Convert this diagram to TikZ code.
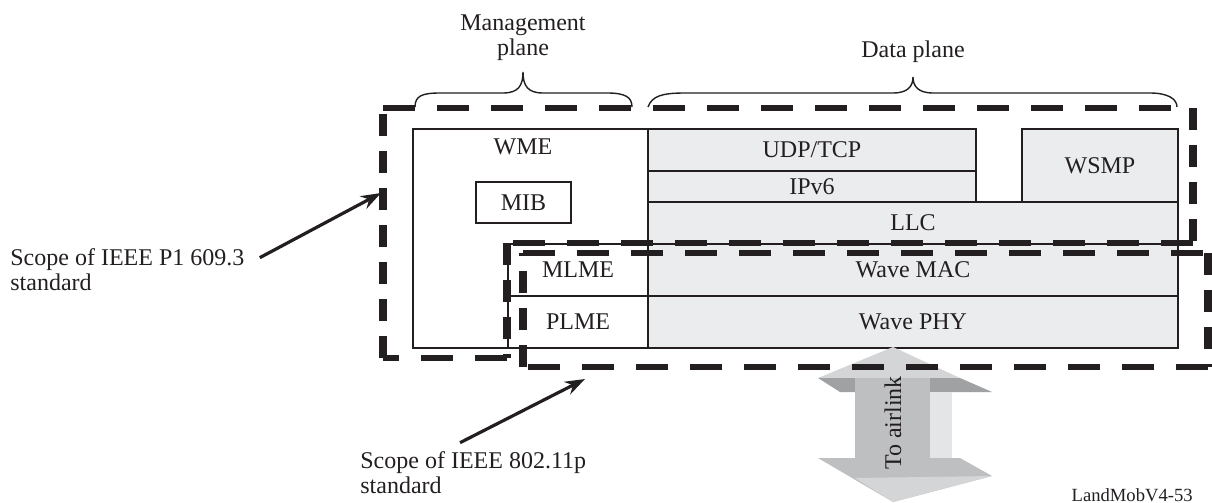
\documentclass[tikz,border=0pt]{standalone}
\usepackage{fontspec}
\setmainfont{Liberation Serif}
\usetikzlibrary{fit,arrows.meta}
\definecolor{boxgrey}{RGB}{235,236,238}
\definecolor{linec}{RGB}{35,31,32}
\definecolor{amid}{RGB}{190,191,193}
\definecolor{alight}{RGB}{212,213,215}
\definecolor{adark}{RGB}{160,161,163}
\definecolor{aside}{RGB}{228,229,230}
\begin{document}
\begin{tikzpicture}[x=0.5pt,y=-0.5pt,
  box/.style={draw=linec, line width=1pt, fill=boxgrey, inner sep=0pt},
  wbox/.style={box, fill=white},
  lbl/.style={font=\fontsize{12}{12.5}\selectfont, inner sep=0pt, text=linec},
  hdash/.style={draw=linec, line width=2.6pt, dash pattern=on 16pt off 11pt},
  vdash/.style={draw=linec, line width=4pt, dash pattern=on 11pt off 7.5pt},
  brc/.style={draw=linec, line width=0.7pt},
  arr/.style={draw=linec, line width=1.6pt, -{Stealth[length=10pt,width=7pt]}}]
\useasboundingbox (0,0) rectangle (1212,503);

% boxes
\node[wbox, fit={(413,129)(648,348)}] (wme) {};
\node[wbox, fit={(476,182)(571,223)}] (mib) {};
\node[box, fit={(648,129)(976,171)}] (udp) {};
\node[box, fit={(648,171)(976,202)}] (ipv6) {};
\node[box, fit={(1022,129)(1178,202)}] (wsmp) {};
\node[box, fit={(648,202)(1178,244)}] (llc) {};
\node[box, fit={(648,244)(1178,296)}] (mac) {};
\node[box, fit={(648,296)(1178,348)}] (phy) {};
\node[wbox, fit={(508,244)(648,296)}] (mlme) {};
\node[wbox, fit={(508,296)(648,348)}] (plme) {};

\node[lbl] (wmet) at (523,147) {WME};
\node[lbl] (mibt) at (mib.center) {MIB};
\node[lbl] (udpt) at (udp.center) {UDP/TCP};
\node[lbl] (ipv6t) at (ipv6.center) {IPv6};
\node[lbl] (wsmpt) at (wsmp.center) {WSMP};
\node[lbl] (llct) at (llc.center) {LLC};
\node[lbl] (mact) at (mac.center) {Wave MAC};
\node[lbl] (phyt) at (phy.center) {Wave PHY};
\node[lbl] (mlmet) at (mlme.center) {MLME};
\node[lbl] (plmet) at (plme.center) {PLME};

% braces
\draw[brc] (415,107) .. controls (415,96) and (422,93) .. (440,93) -- (503,93)
  .. controls (518,93) and (523,86) .. (523,72)
  .. controls (523,86) and (528,93) .. (543,93) -- (607,93)
  .. controls (625,93) and (632,97) .. (632,107);
\draw[brc] (648,107) .. controls (652,96) and (662,93) .. (685,93) -- (893,93)
  .. controls (908,93) and (913,86) .. (913,77)
  .. controls (913,86) and (918,93) .. (933,93) -- (1150,93)
  .. controls (1168,93) and (1177,99) .. (1177,107);
\node[lbl, align=center, anchor=base] (mgmt) at (523,55) {Management\\plane};
\node[lbl, anchor=base] (data) at (913,57) {Data plane};

% airlink arrow
\fill[alight] (893,347) -- (818,378) -- (960,378) -- cycle;
\fill[adark] (818,378) -- (855,378) -- (855,392) -- (840,392) -- cycle;
\fill[adark] (930,378) -- (960,378) -- (992,392) -- (930,392) -- cycle;
\fill[amid] (855,378) rectangle (930,458);
\fill[aside] (930,392) rectangle (952,458);
\fill[amid] (818,458) -- (960,458) -- (992,476) -- (893,502) -- cycle;
\fill[alight] (855,478) -- (992,476) -- (893,502) -- cycle;
\node[lbl, rotate=90] (air) at (893,423) {To airlink};

% dashed scopes (drawn over the arrow)
\draw[hdash] (383,108) -- (1193,108);
\draw[hdash] (1193,243) -- (507,243);
\draw[hdash] (507,358) -- (383,358);
\draw[vdash] (1193,108) -- (1193,243);
\draw[vdash] (507,243) -- (507,358);
\draw[vdash] (383,358) -- (383,108);

\draw[hdash] (523,253) -- (1208,253);
\draw[hdash] (1208,367) -- (523,367);
\draw[vdash] (1208,253) -- (1208,367);
\draw[vdash] (523,367) -- (523,253);

% scope labels and pointers
\node[lbl, align=left, anchor=base west] (scope1) at (10,290) {Scope of IEEE P1 609.3\\standard};
\node[lbl, align=left, anchor=base west] (scope2) at (360,493) {Scope of IEEE 802.11p\\standard};
\coordinate (t1) at (381,193);
\coordinate (t2) at (585,379);
\draw[arr] ([xshift=7.5pt,yshift=-5pt]scope1.north east) -- (t1);
\draw[arr] ([xshift=50pt,yshift=4pt]scope2.north west) -- (t2);

\node[font=\fontsize{9.3}{10}\selectfont, inner sep=0pt, anchor=base east, text=linec] (fig) at (1193,501) {LandMobV4-53};
\end{tikzpicture}
\end{document}
